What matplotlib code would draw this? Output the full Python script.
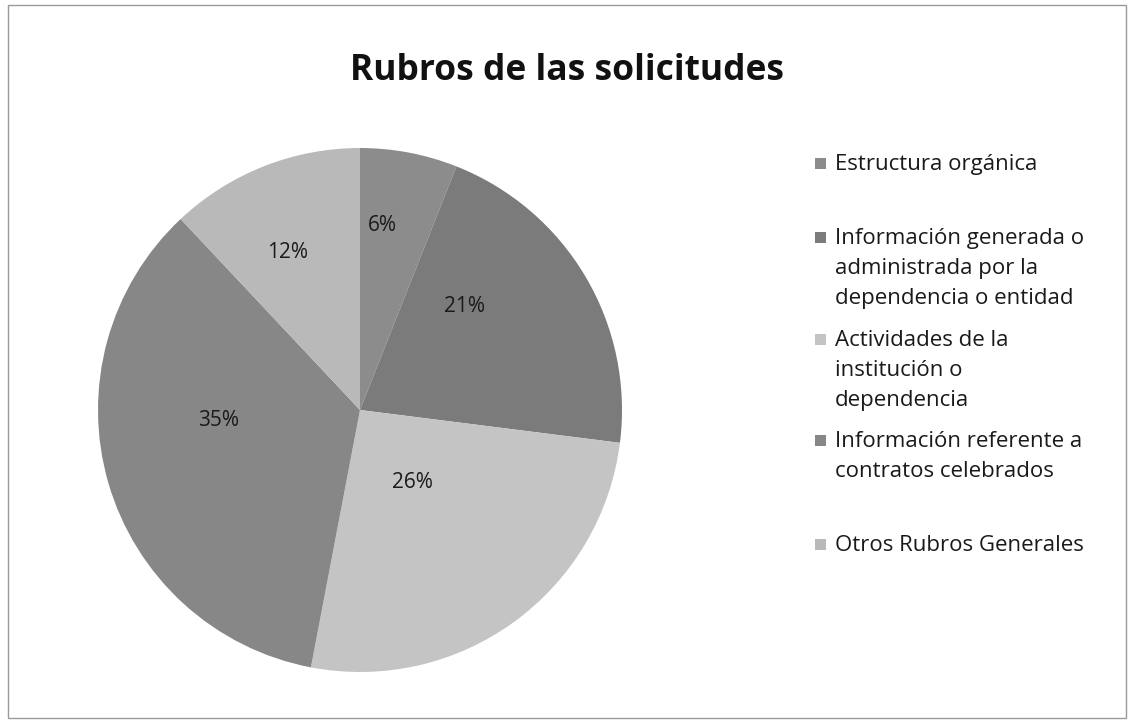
import matplotlib
matplotlib.use("Agg")
import matplotlib.pyplot as plt
from matplotlib.patches import Rectangle
import numpy as np

categories = [
    "Estructura orgánica",
    "Información generada o\nadministrada por la\ndependencia o entidad",
    "Actividades de la\ninstitución o\ndependencia",
    "Información referente a\ncontratos celebrados",
    "Otros Rubros Generales",
]
values = [6, 21, 26, 35, 12]
labels = ["6%", "21%", "26%", "35%", "12%"]
colors = ["#8c8c8c", "#7b7b7b", "#c4c4c4", "#878787", "#b9b9b9"]

# label placement (angle offset from wedge middle in degrees, radius fraction)
label_offsets = [4, 14, 0, -12, 3]
label_radii = [0.71, 0.56, 0.34, 0.54, 0.66]

plt.rcParams['font.family'] = ['Open Sans', 'DejaVu Sans']

fig = plt.figure(figsize=(11.34, 7.22), dpi=100)
fig.patch.set_facecolor("white")
fig.add_artist(Rectangle((8/1134, 1-718/722), 1-16/1134, (718-5)/722,
                         transform=fig.transFigure, fill=False,
                         edgecolor="#9a9a9a", linewidth=1.0))

ax = fig.add_axes([98/1134, 50/722, 524/1134, 524/722])
wedges, _ = ax.pie(values, colors=colors, startangle=90, counterclock=False,
                   radius=1.0, wedgeprops=dict(linewidth=0))
ax.set_xlim(-1, 1)
ax.set_ylim(-1, 1)
ax.set_aspect("equal")
ax.axis("off")

for w, lab, off, r in zip(wedges, labels, label_offsets, label_radii):
    mid = np.deg2rad((w.theta1 + w.theta2) / 2 + off)
    ax.text(r * np.cos(mid), r * np.sin(mid), lab, ha="center", va="center",
            fontsize=15, color="#1a1a1a")

fig.text(567/1134, 1-71/722, "Rubros de las solicitudes", ha="center", va="center",
         fontsize=25.5, fontweight="bold", color="#111111")

# legend
legend_tops = [163, 237, 339, 440, 544]
for cat, col, yt in zip(categories, colors, legend_tops):
    fig.add_artist(Rectangle((815/1134, 1-(yt+6)/722), 11/1134, 11/722,
                             transform=fig.transFigure, facecolor=col,
                             edgecolor="none"))
    fig.text(835/1134, 1-(yt-9)/722, cat, ha="left", va="top",
             fontsize=16, color="#1a1a1a", linespacing=1.55)

fig.savefig("out.png", dpi=100)
